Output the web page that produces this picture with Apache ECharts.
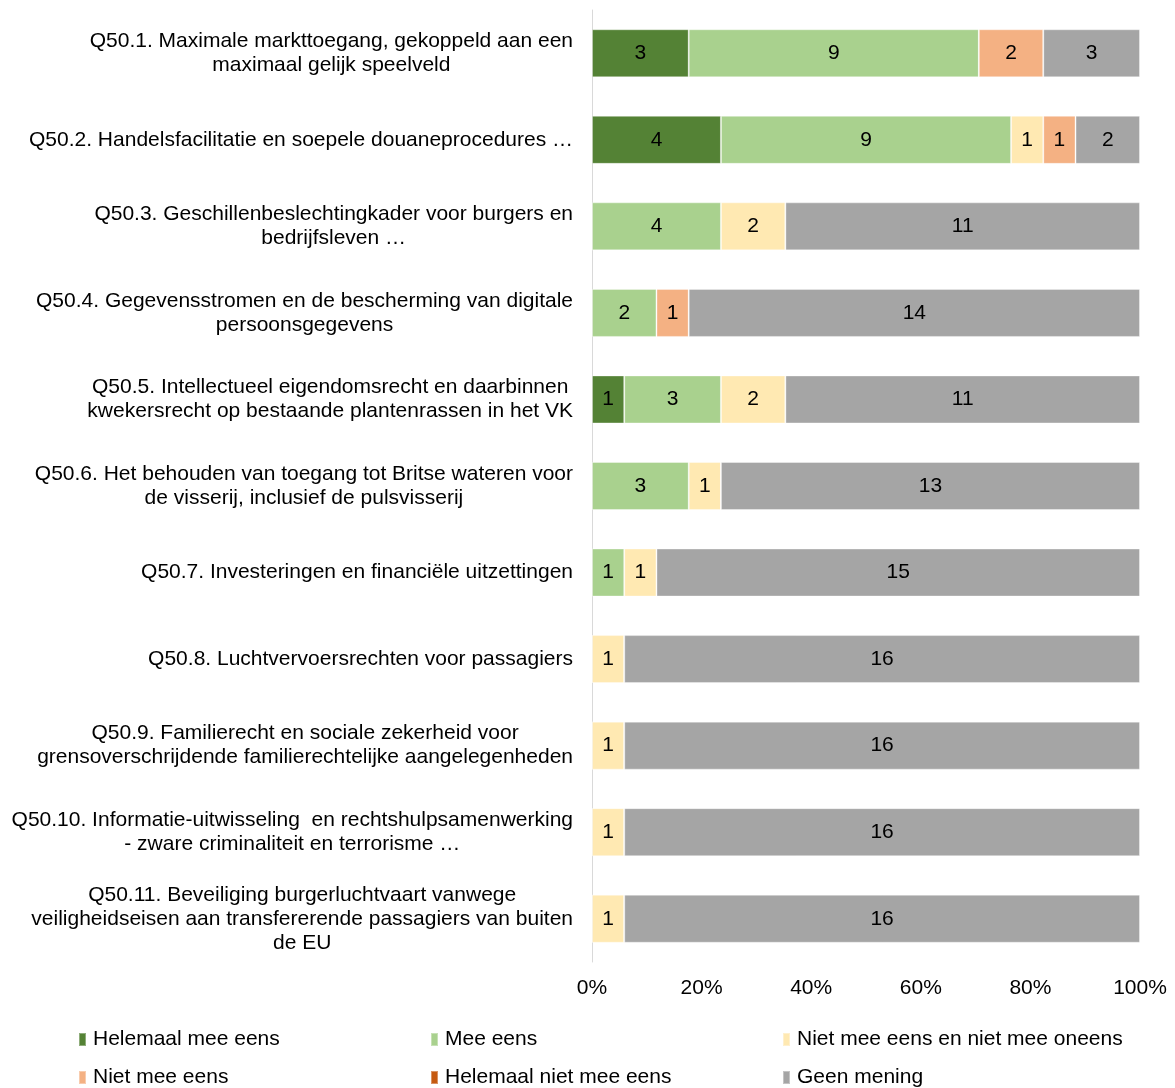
<!DOCTYPE html>
<html><head><meta charset="utf-8">
<script src="https://cdn.jsdelivr.net/npm/echarts@6/dist/echarts.min.js"></script>
<style>html,body{margin:0;padding:0;background:#fff}#c{width:1175px;height:1088px}</style>
</head><body><div id="c"></div>
<script>
const categories = [
  "Q50.1. Maximale markttoegang, gekoppeld aan een\nmaximaal gelijk speelveld",
  "Q50.2. Handelsfacilitatie en soepele douaneprocedures …",
  "Q50.3. Geschillenbeslechtingkader voor burgers en\nbedrijfsleven …",
  "Q50.4. Gegevensstromen en de bescherming van digitale\npersoonsgegevens",
  "Q50.5. Intellectueel eigendomsrecht en daarbinnen\nkwekersrecht op bestaande plantenrassen in het VK",
  "Q50.6. Het behouden van toegang tot Britse wateren voor\nde visserij, inclusief de pulsvisserij",
  "Q50.7. Investeringen en financiële uitzettingen",
  "Q50.8. Luchtvervoersrechten voor passagiers",
  "Q50.9. Familierecht en sociale zekerheid voor\ngrensoverschrijdende familierechtelijke aangelegenheden",
  "Q50.10. Informatie-uitwisseling  en rechtshulpsamenwerking\n- zware criminaliteit en terrorisme …",
  "Q50.11. Beveiliging burgerluchtvaart vanwege\nveiligheidseisen aan transfererende passagiers van buiten\nde EU"
];
const seriesNames = ["Helemaal mee eens","Mee eens","Niet mee eens en niet mee oneens","Niet mee eens","Helemaal niet mee eens","Geen mening"];
const helemaalMeeEens   = [3,4,0,0,1,0,0,0,0,0,0];
const meeEens           = [9,9,4,2,3,3,1,0,0,0,0];
const neutraal          = [0,1,2,0,2,1,1,1,1,1,1];
const nietMeeEens       = [2,1,0,1,0,0,0,0,0,0,0];
const helemaalNiet      = [0,0,0,0,0,0,0,0,0,0,0];
const geenMening        = [3,2,11,14,11,13,15,16,16,16,16];
const xTicks = ["0%","20%","40%","60%","80%","100%"];
const colors = ["#548235","#A9D18E","#FFE9B2","#F4B183","#C55A11","#A5A5A5"];

const allCounts = [helemaalMeeEens, meeEens, neutraal, nietMeeEens, helemaalNiet, geenMening];
const totals = categories.map((_, i) => allCounts.reduce((s, a) => s + a[i], 0));
const FONT = "Liberation Sans, Arial, sans-serif";
const FS = 21;

const series = allCounts.map((arr, si) => ({
  name: seriesNames[si],
  type: 'bar',
  stack: 'total',
  barWidth: 48,
  itemStyle: { color: colors[si], borderColor: 'rgba(255,255,255,0.35)', borderWidth: 1 },
  label: {
    show: true, position: 'inside', color: '#000', fontSize: FS, fontFamily: FONT,
    formatter: p => arr[p.dataIndex] ? String(arr[p.dataIndex]) : ''
  },
  data: arr.map((v, i) => v / totals[i] * 100)
}));

// legend layout: 3 columns x 2 rows, order row-major
const legendLefts = [78, 430, 782];
const legendTops = [1029, 1067];
const legends = seriesNames.map((name, i) => ({
  orient: 'horizontal',
  left: legendLefts[i % 3], top: legendTops[Math.floor(i / 3)],
  itemWidth: 7, itemHeight: 13, itemGap: 0, icon: 'rect', padding: 0,
  textStyle: { fontSize: FS, fontFamily: FONT, color: '#000', padding: [0,0,0,2] },
  data: [name]
}));

const chart = echarts.init(document.getElementById('c'));
chart.setOption({
  animation: false,
  color: colors,
  textStyle: { fontFamily: FONT },
  grid: { left: 592, right: 35, top: 10, height: 952, containLabel: false },
  legend: legends,
  xAxis: {
    type: 'value', min: 0, max: 100, interval: 20,
    axisLine: { show: false }, axisTick: { show: false }, splitLine: { show: false },
    axisLabel: { fontSize: FS, color: '#000', fontFamily: FONT, margin: 16,
      formatter: v => xTicks[Math.round(v / 20)] }
  },
  yAxis: {
    type: 'category', inverse: true, data: categories,
    axisLine: { show: true, lineStyle: { color: '#D9D9D9', width: 1 } },
    axisTick: { show: false },
    axisLabel: {
      margin: 19, fontSize: FS, color: '#000', fontFamily: FONT, lineHeight: 24,
      formatter: v => '{a|' + v.split('\n').join('}\n{a|') + '}',
      rich: { a: { fontSize: FS, fontFamily: FONT, color: '#000', align: 'center', lineHeight: 24 } }
    }
  },
  series: series
});
</script></body></html>
